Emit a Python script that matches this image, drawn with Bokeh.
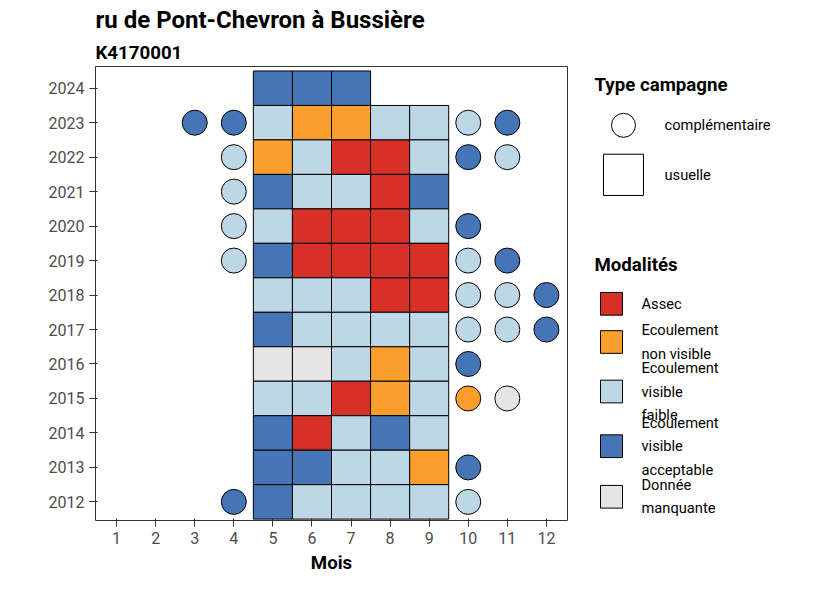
from bokeh.plotting import figure
from bokeh.models import Title, Range1d, ColumnDataSource
from bokeh.layouts import row
from bokeh.core.properties import value
from bokeh.embed import file_html
from bokeh.resources import INLINE

FONT = "Roboto"
colors = {"R": "#D73027", "O": "#FC9E2E", "F": "#BDD7E7", "A": "#4575B4", "M": "#E5E5E5"}
labels = {"R": "Assec", "O": "Ecoulement\nnon visible", "F": "Ecoulement\nvisible\nfaible",
          "A": "Ecoulement\nvisible\nacceptable", "M": "Donnée\nmanquante"}

years = list(range(2012, 2025))
# usuelle campaigns: months 5..9
usuelle = {
    2024: "AAA", 2023: "FOOFF", 2022: "OFRRF", 2021: "AFFRA", 2020: "FRRRF",
    2019: "ARRRR", 2018: "FFFRR", 2017: "AFFFF", 2016: "MMFOF", 2015: "FFROF",
    2014: "ARFAF", 2013: "AAFFO", 2012: "AFFFF",
}
# complementaire campaigns: (year, month, state)
compl = [
    (2023, 3, "A"), (2023, 4, "A"), (2023, 10, "F"), (2023, 11, "A"),
    (2022, 4, "F"), (2022, 10, "A"), (2022, 11, "F"),
    (2021, 4, "F"),
    (2020, 4, "F"), (2020, 10, "A"),
    (2019, 4, "F"), (2019, 10, "F"), (2019, 11, "A"),
    (2018, 10, "F"), (2018, 11, "F"), (2018, 12, "A"),
    (2017, 10, "F"), (2017, 11, "F"), (2017, 12, "A"),
    (2016, 10, "A"),
    (2015, 10, "O"), (2015, 11, "M"),
    (2013, 10, "A"),
    (2012, 4, "A"), (2012, 10, "F"),
]

sx, sy, sc = [], [], []
for y, states in usuelle.items():
    for i, s in enumerate(states):
        sx.append(5 + i); sy.append(y); sc.append(colors[s])
cx = [c[1] for c in compl]
cy = [c[0] for c in compl]
cc = [colors[c[2]] for c in compl]

p = figure(width=588, height=582, output_backend="svg", toolbar_location=None,
           x_range=Range1d(0.46, 12.54), y_range=Range1d(2011.46, 2024.63),
           min_border_left=95, min_border_right=21, min_border_bottom=62, tools="")
p.add_layout(Title(text="K4170001", text_font=FONT, text_font_size="14pt",
                   text_font_style="bold", text_color="black", standoff=6), "above")
p.add_layout(Title(text="ru de Pont-Chevron à Bussière", text_font=FONT,
                   text_font_size="18pt", text_font_style="bold", text_color="black",
                   standoff=6), "above")
p.rect(sx, sy, width=1, height=1, fill_color=sc, line_color="black", line_width=1)
p.scatter(cx, cy, size=25, fill_color=cc, line_color="black", line_width=1)
p.xgrid.visible = False
p.ygrid.visible = False
p.xaxis.ticker = list(range(1, 13))
p.yaxis.ticker = years
p.xaxis.axis_label = "Mois"
p.xaxis.axis_label_text_font = FONT
p.xaxis.axis_label_text_font_style = "bold"
p.xaxis.axis_label_text_font_size = "14pt"
p.xaxis.axis_label_text_color = "black"
for ax in (p.xaxis, p.yaxis):
    ax.major_label_text_font = FONT
    ax.major_label_text_font_size = "12pt"
    ax.major_label_text_color = "#4D4D4D"
    ax.axis_line_color = None
    ax.minor_tick_line_color = None
    ax.major_tick_line_color = "#333333"
p.outline_line_color = "#333333"

# legend panel, coordinates in page pixels (frame aligned with main plot frame)
lg = figure(width=230, height=582, output_backend="svg", toolbar_location=None,
            x_range=Range1d(597, 827), y_range=Range1d(520, 80), tools="",
            min_border=0)
lg.axis.visible = False
lg.grid.visible = False
lg.outline_line_color = None
lg.text([603], [98], text=["Type campagne"], text_font=value(FONT), text_font_size="14pt",
        text_font_style="bold", text_baseline="middle")
lg.scatter([632], [137], size=24, fill_color="white", line_color="black")
lg.rect([632], [185], width=40, height=40, fill_color="white", line_color="black")
lg.text([673, 673], [137, 185], text=["complémentaire", "usuelle"], text_font=value(FONT),
        text_font_size="11pt", text_baseline="middle")
lg.text([603], [272], text=["Modalités"], text_font=value(FONT), text_font_size="14pt",
        text_font_style="bold", text_baseline="middle")
keys = ["R", "O", "F", "A", "M"]
ky = [310, 347, 395, 448, 497]
lg.rect([620] * 5, ky, width=22, height=22, fill_color=[colors[k] for k in keys],
        line_color="black")
src = ColumnDataSource(dict(x=[650] * 5, y=ky, t=[labels[k] for k in keys]))
lg.text("x", "y", text="t", source=src, text_font=value(FONT), text_font_size="11pt",
        text_baseline="middle", text_line_height=1.3)

layout = row(p, lg)
open("out.html", "w").write(file_html(layout, INLINE))
